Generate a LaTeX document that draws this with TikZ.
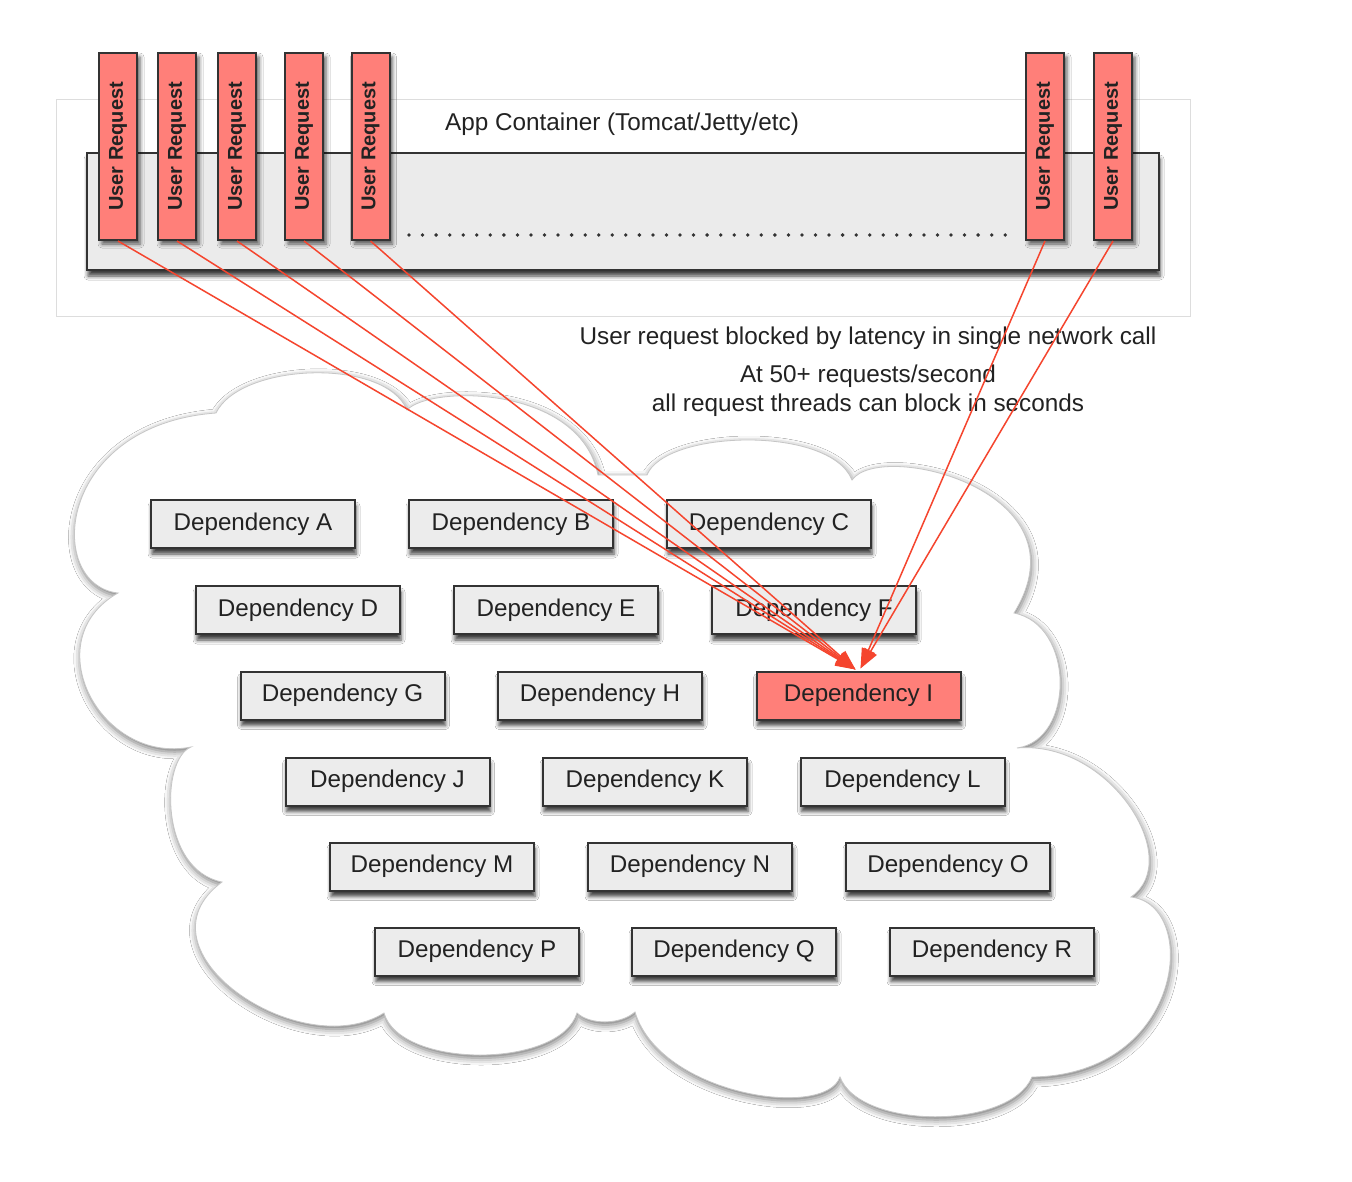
\documentclass[tikz,border=0pt]{standalone}
\usepackage{fontspec}
\usepackage{graphicx}
\setmainfont{Liberation Sans}
\usetikzlibrary{arrows.meta,shadows.blur,calc}

\definecolor{reqfill}{HTML}{FF7F79}
\definecolor{depfill}{HTML}{ECECEC}
\definecolor{edgec}{HTML}{333333}
\definecolor{redline}{HTML}{F5452E}
\definecolor{txt}{HTML}{222222}
\definecolor{outerc}{HTML}{DDDDDD}
\definecolor{innerfill}{HTML}{EBEBEB}

\begin{document}
\begin{tikzpicture}[x=1pt,y=-1pt,
  boxshadow/.style={blur shadow={shadow xshift=1pt, shadow yshift=-6pt, shadow blur radius=4pt, shadow opacity=75}},
  depbox/.style={draw=edgec, line width=2pt, fill=depfill, minimum width=204pt, minimum height=48pt,
     inner sep=0pt, font=\fontsize{24.2}{28}\selectfont, text=txt, boxshadow},
  hotbox/.style={depbox, fill=reqfill},
  reqbox/.style={draw=edgec, line width=2pt, fill=reqfill, minimum width=38pt, minimum height=187pt,
     inner sep=0pt, font=\bfseries\fontsize{20}{24}\selectfont, text=txt,
     blur shadow={shadow xshift=3pt, shadow yshift=-4pt, shadow blur radius=4pt, shadow opacity=65}},
  reqline/.style={draw=redline, line width=1.5pt, -{Triangle[length=20pt,width=14pt]}},
  note/.style={font=\fontsize{24.3}{28}\selectfont, text=txt, inner sep=0pt},
  cloudshape/.style={fill=white, draw=gray!45, line width=0.8pt,
     blur shadow={shadow xshift=1pt, shadow yshift=-3pt, shadow blur radius=7pt, shadow opacity=55}},
  dotmark/.style={fill=edgec, draw=none},
]
\useasboundingbox (0,0) rectangle (1352,1182);
\fill[white] (0,0) rectangle (1352,1182);

% App container
\draw[outerc, line width=1pt] (56,100) rectangle (1190,317);
\path[draw=edgec, line width=2pt, fill=innerfill, boxshadow] (87,153) rectangle (1159,270);
\node[note] (apptitle) at (622,124) {App Container (Tomcat/Jetty/etc)};
\foreach \i in {0,...,44}{
  \fill[dotmark] (409+13.55*\i,235) circle[radius=1.9pt];
}

% notes
\node[note] (note1) at (868,338) {User request blocked by latency in single network call};
\node[note] (note2) at (868,376) {At 50+ requests/second};
\node[note] (note3) at (868,405) {all request threads can block in seconds};

% cloud
\path[cloudshape] (216,413)
  .. controls (240,363) and (385,357) .. (407,410)
  .. controls (430,385) and (580,385) .. (598,475)
  -- (647,475)
  .. controls (665,430) and (830,425) .. (852,480)
  .. controls (880,440) and (1090,490) .. (1014,613)
  .. controls (1075,625) and (1075,740) .. (1017,748)
  .. controls (1110,740) and (1185,860) .. (1131,897)
  .. controls (1200,905) and (1185,1075) .. (1032,1077)
  .. controls (1010,1130) and (860,1130) .. (840,1077)
  .. controls (825,1120) and (660,1095) .. (635,1012)
  .. controls (620,1025) and (590,1025) .. (577,1013)
  .. controls (560,1069) and (400,1069) .. (384,1013)
  .. controls (300,1065) and (130,950) .. (222,882)
  .. controls (160,870) and (160,760) .. (191,747)
  .. controls (100,765) and (35,640) .. (118,593)
  .. controls (45,585) and (55,425) .. (216,413)
  -- cycle;

% dependencies
\node[depbox] (depA) at (253,524) {Dependency A};
\node[depbox] (depB) at (511,524) {Dependency B};
\node[depbox] (depC) at (769,524) {Dependency C};
\node[depbox] (depD) at (298,610) {Dependency D};
\node[depbox] (depE) at (556,610) {Dependency E};
\node[depbox] (depF) at (814,610) {Dependency F};
\node[depbox] (depG) at (342.5,695.5) {Dependency G};
\node[depbox] (depH) at (600,695.5) {Dependency H};
\node[hotbox] (depI) at (858.5,695.5) {Dependency I};
\node[depbox] (depJ) at (387.5,781.5) {Dependency J};
\node[depbox] (depK) at (645,781.5) {Dependency K};
\node[depbox] (depL) at (902.5,781.5) {Dependency L};
\node[depbox] (depM) at (432,866.5) {Dependency M};
\node[depbox] (depN) at (690,866.5) {Dependency N};
\node[depbox] (depO) at (948,866.5) {Dependency O};
\node[depbox] (depP) at (477,951.5) {Dependency P};
\node[depbox] (depQ) at (734,951.5) {Dependency Q};
\node[depbox] (depR) at (992,951.5) {Dependency R};

% user requests
\foreach \n/\x in {1/118,2/177,3/237,4/304,5/370.5,6/1045,7/1113}{
  \node[reqbox] (ur\n) at (\x,146.5) {\rotatebox{90}{User Request}};
}

% connectors
\foreach \n in {1,2,3,4,5}{
  \draw[reqline] (ur\n.south) -- ([xshift=-3pt,yshift=1pt]depI.north);
}
\foreach \n in {6,7}{
  \draw[reqline] (ur\n.south) -- ([xshift=2pt,yshift=2pt]depI.north);
}
\end{tikzpicture}
\end{document}
